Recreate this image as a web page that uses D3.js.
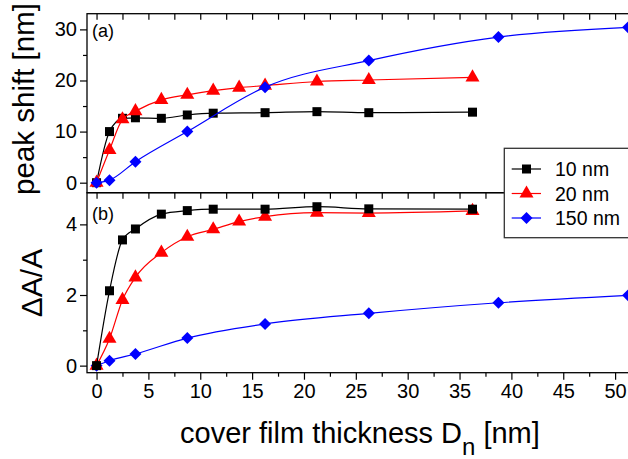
<!DOCTYPE html>
<html><head><meta charset="utf-8">
<script src="https://cdn.jsdelivr.net/npm/d3@7"></script>
<style>body{margin:0;background:#fff}svg{display:block}text{font-family:"Liberation Sans",Arial,sans-serif}</style>
</head><body><svg id="c" width="628" height="459"></svg>
<script>
// ---- data ----
const seriesNames = ["10 nm", "20 nm", "150 nm"];
const xThin = [0, 1.25, 2.5, 3.75, 6.25, 8.75, 11.25, 16.25, 21.25, 26.25, 36.25];
const xRed = [0, 1.25, 2.5, 3.75, 6.25, 8.75, 11.25, 13.75, 16.25, 21.25, 26.25, 36.25];
const xBlue = [0, 1.25, 3.75, 8.75, 16.25, 26.25, 38.75, 51.25];
const shift10 = [0, 10.0, 12.6, 12.7, 12.6, 13.25, 13.6, 13.7, 13.9, 13.7, 13.8];
const shift20 = [0, 6.4, 12.4, 14.0, 16.2, 17.2, 18.0, 18.6, 19.0, 19.8, 20.1, 20.6];
const shift150 = [0, 0.5, 4.1, 10.0, 18.7, 23.9, 28.5, 30.4];
const dA10 = [0, 2.12, 3.56, 3.87, 4.29, 4.39, 4.43, 4.43, 4.5, 4.44, 4.43];
const dA20 = [0, 0.76, 1.86, 2.5, 3.2, 3.65, 3.86, 4.08, 4.22, 4.33, 4.32, 4.38];
const dA150 = [0, 0.14, 0.33, 0.78, 1.18, 1.48, 1.78, 1.99];
const xTicks = [0, 5, 10, 15, 20, 25, 30, 35, 40, 45, 50];
const yTicksA = [0, 10, 20, 30];
const yTicksB = [0, 2, 4];
const colors = ["#000000", "#ff0000", "#0000ff"];
const symbols = [d3.symbolSquare, d3.symbolTriangle, d3.symbolSquare];
const symRot = [0, 0, 45];
const symSize = [81, 85, 72];

const svg = d3.select("#c");
const L = 87, R = 640;
const x = d3.scaleLinear().domain([-0.92, 52.4]).range([L, R]);
const yA = d3.scaleLinear().domain([-1.96, 33.07]).range([192.7, 13.7]);
const yB = d3.scaleLinear().domain([-0.2, 4.88]).range([372.7, 193.3]);

const minorX = d3.range(0, 52.5, 2.5);

function panel(y, yTicks, yMinor, top, bottom) {
  const g = svg.append("g");
  const ax = g.append("g").attr("transform", `translate(${L},0)`)
    .call(d3.axisLeft(y).tickValues(yTicks).tickFormat(d3.format("d")).tickSize(7).tickPadding(3).tickSizeOuter(0));
  ax.select(".domain").remove();
  ax.selectAll("text").attr("font-size", 20).attr("fill", "#000").attr("font-family", "Liberation Sans, Arial");
  ax.selectAll("line").attr("stroke", "#000").attr("stroke-width", 1.2);
  const am = g.append("g").attr("transform", `translate(${L},0)`)
    .call(d3.axisLeft(y).tickValues(yMinor).tickSize(4).tickFormat("").tickSizeOuter(0));
  am.select(".domain").remove();
  am.selectAll("line").attr("stroke", "#000").attr("stroke-width", 1.2);
  const at = g.append("g").attr("transform", `translate(0,${top})`)
    .call(d3.axisBottom(x).tickValues(minorX).tickSize(6).tickFormat("").tickSizeOuter(0));
  at.select(".domain").remove();
  at.selectAll("line").attr("stroke", "#000").attr("stroke-width", 1.2);
  g.append("rect").attr("x", L).attr("y", top).attr("width", R - L).attr("height", bottom - top)
    .attr("fill", "none").attr("stroke", "#000").attr("stroke-width", 1.3);
  return g;
}
panel(yA, yTicksA, [5, 15, 25], 13.7, 192.7);
panel(yB, yTicksB, [1, 3], 192.7, 372.7);

const bx = svg.append("g").attr("transform", "translate(0,372.7)")
  .call(d3.axisBottom(x).tickValues(xTicks).tickSize(7).tickPadding(4).tickSizeOuter(0));
bx.select(".domain").remove();
bx.selectAll("text").attr("font-size", 20).attr("fill", "#000");
bx.selectAll("line").attr("stroke", "#000").attr("stroke-width", 1.2);
const bxm = svg.append("g").attr("transform", "translate(0,372.7)")
  .call(d3.axisBottom(x).tickValues(minorX.filter(v => v % 5 !== 0)).tickSize(4).tickFormat("").tickSizeOuter(0));
bxm.select(".domain").remove();
bxm.selectAll("line").attr("stroke", "#000").attr("stroke-width", 1.2);

function drawSeries(y, xs, ys, i, curve) {
  const pts = xs.map((v, k) => [v, ys[k]]);
  const line = d3.line().x(d => x(d[0])).y(d => y(d[1])).curve(curve);
  svg.append("path").attr("d", line(pts)).attr("fill", "none")
    .attr("stroke", colors[i]).attr("stroke-width", 1.2);
  svg.append("g").selectAll("path").data(pts).join("path")
    .attr("transform", d => `translate(${x(d[0])},${y(d[1])}) rotate(${symRot[i]})`)
    .attr("d", d3.symbol().type(symbols[i]).size(symSize[i]))
    .attr("fill", colors[i]);
}
drawSeries(yA, xThin, shift10, 0, d3.curveMonotoneX);
drawSeries(yA, xRed, shift20, 1, d3.curveMonotoneX);
drawSeries(yA, xBlue, shift150, 2, d3.curveMonotoneX);
drawSeries(yB, xBlue, dA150, 2, d3.curveMonotoneX);
drawSeries(yB, xRed, dA20, 1, d3.curveMonotoneX);
drawSeries(yB, xThin, dA10, 0, d3.curveMonotoneX);

svg.append("text").attr("x", 92).attr("y", 37).attr("font-size", 18).text("(a)");
svg.append("text").attr("x", 92).attr("y", 220).attr("font-size", 18).text("(b)");

svg.append("text").attr("transform", "translate(34,99) rotate(-90)").attr("text-anchor", "middle")
  .attr("font-size", 29.5).text("peak shift [nm]");
svg.append("text").attr("transform", "translate(42,283) rotate(-90)").attr("text-anchor", "middle")
  .attr("font-size", 30).text("\u0394A/A");
const xt = svg.append("text").attr("x", 180).attr("y", 443).attr("font-size", 29);
xt.append("tspan").text("cover film thickness D");
xt.append("tspan").attr("font-size", 24).attr("dy", 12).text("n");
xt.append("tspan").attr("dy", -12).text(" [nm]");

const lg = svg.append("g");
lg.append("rect").attr("x", 504.3).attr("y", 148.3).attr("width", 140).attr("height", 89.4)
  .attr("fill", "#fff").attr("stroke", "#333").attr("stroke-width", 1.3);
const rows = [169, 193.5, 218];
seriesNames.forEach((n, i) => {
  lg.append("line").attr("x1", 511.7).attr("x2", 541).attr("y1", rows[i]).attr("y2", rows[i])
    .attr("stroke", colors[i]).attr("stroke-width", 1.2);
  lg.append("path").attr("transform", `translate(526.5,${rows[i]}) rotate(${symRot[i]})`)
    .attr("d", d3.symbol().type(symbols[i]).size(symSize[i])).attr("fill", colors[i]);
  lg.append("text").attr("x", 555).attr("y", rows[i] + 7).attr("font-size", 19.5).text(n);
});
</script></body></html>
